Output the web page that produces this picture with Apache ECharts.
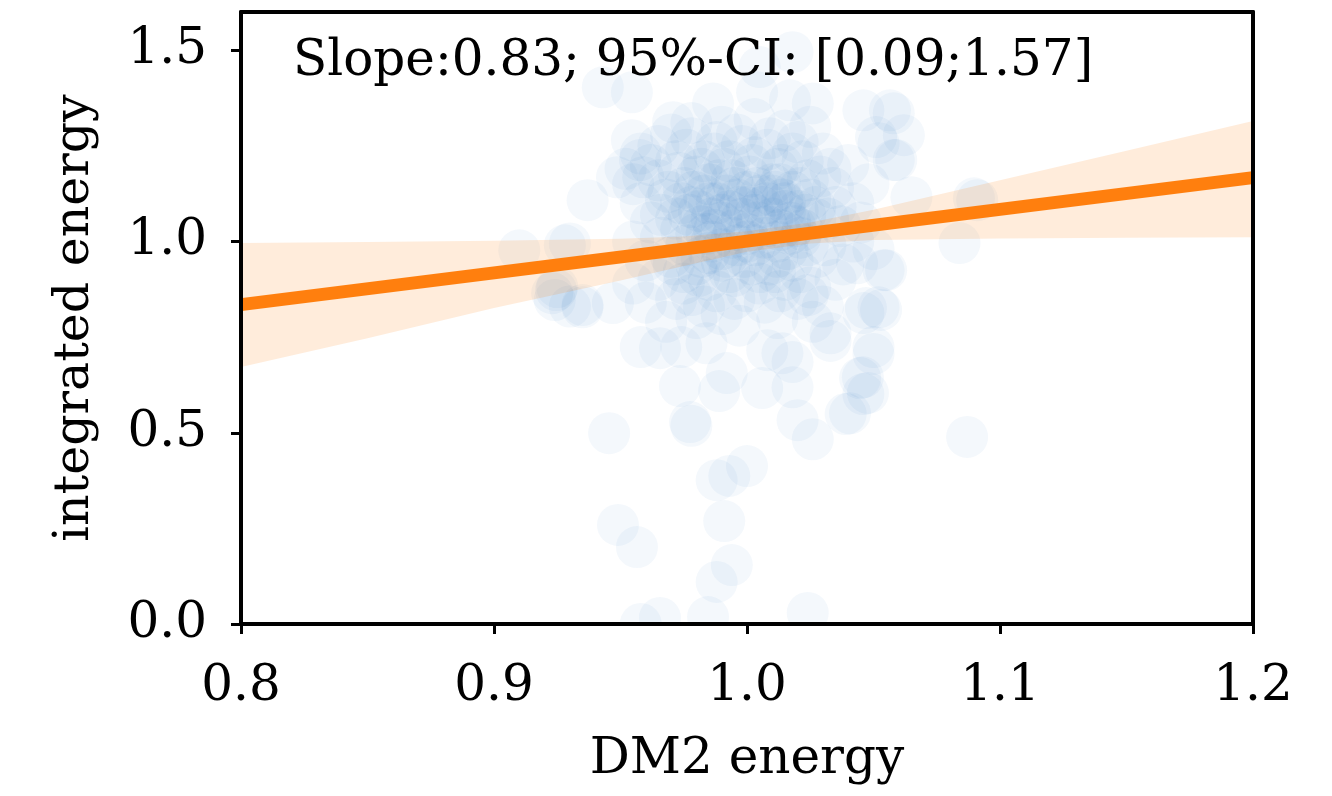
<!DOCTYPE html>
<html>
<head>
<meta charset="utf-8">
<script src="https://cdn.jsdelivr.net/npm/echarts@6/dist/echarts.min.js"></script>
<style>html,body{margin:0;padding:0;background:#fff}#c{width:1332px;height:796px}</style>
</head>
<body>
<div id="c"></div>
<script>
const xTicks = [0.8, 0.9, 1.0, 1.1, 1.2];
const yTicks = [0, 0.5, 1.0, 1.5];
const annotation = 'Slope:0.83; 95%-CI: [0.09;1.57]';
const xName = 'DM2 energy';
const yName = 'integrated energy';

const corePoints = [
  [0.978,1.31],[0.99,1.30],[1.003,1.32],[1.015,1.29],[0.97,1.28],[1.025,1.30],
  [0.965,1.25],[0.976,1.24],[0.988,1.26],[0.998,1.25],[1.008,1.24],[1.02,1.26],[1.03,1.23],[0.958,1.23],
  [0.962,1.20],[0.972,1.21],[0.982,1.19],[0.993,1.21],[1.002,1.20],[1.012,1.19],[1.022,1.21],[1.033,1.19],[0.952,1.19],[1.04,1.20],
  [0.955,1.15],[0.965,1.16],[0.975,1.14],[0.985,1.15],[0.994,1.16],[1.004,1.14],[1.013,1.15],[1.024,1.16],[1.034,1.14],[0.98,1.17],[1.0,1.13],[1.018,1.13],
  [0.958,1.10],[0.968,1.11],[0.978,1.09],[0.988,1.10],[0.996,1.11],[1.006,1.09],[1.015,1.10],[1.025,1.11],[1.035,1.09],[0.983,1.12],[1.01,1.12],[0.993,1.08],[1.02,1.08],
  [0.962,1.05],[0.972,1.06],[0.982,1.04],[0.99,1.05],[0.998,1.06],[1.008,1.04],[1.017,1.05],[1.027,1.06],[1.037,1.04],[0.977,1.07],[1.003,1.07],[1.013,1.03],[0.987,1.03],[1.022,1.03],
  [0.955,1.00],[0.966,1.01],[0.976,0.99],[0.986,1.00],[0.994,1.01],[1.003,0.99],[1.012,1.00],[1.021,1.01],[1.031,0.99],[1.042,1.00],[0.98,1.02],[1.0,1.02],[1.016,0.98],[0.99,0.98],
  [0.96,0.95],[0.97,0.96],[0.98,0.94],[0.99,0.95],[0.999,0.96],[1.009,0.94],[1.018,0.95],[1.028,0.96],[1.038,0.94],[0.985,0.97],[1.005,0.92],[0.975,0.92],
  [0.965,0.90],[0.975,0.89],[0.985,0.90],[0.995,0.91],[1.005,0.89],[1.015,0.90],[1.025,0.88],[1.035,0.90],[0.955,0.89],
  [0.96,0.84],[0.972,0.85],[0.983,0.83],[0.995,0.85],[1.007,0.84],[1.02,0.85],[1.03,0.83],[0.99,0.81],
  [0.968,0.79],[0.98,0.80],[0.997,0.78],[1.012,0.80],[1.026,0.79],
  [0.99,1.07],[1.0,1.09],[1.01,1.06],[0.995,1.03],[1.005,1.12],[0.985,1.10],[1.015,1.08],[1.0,1.00],[0.995,1.14],[1.01,1.15],
  [0.981,1.08],[0.992,1.12],[1.004,1.05],[1.014,1.11],[1.023,1.07],[0.986,1.06],[0.997,1.09],[1.008,1.10],[1.019,1.04],[0.979,1.13],
  [0.989,1.16],[1.001,1.17],[1.011,1.13],[1.021,1.14],[0.974,1.10],[0.984,1.02],[0.996,0.99],[1.007,1.01],[1.017,1.02],[1.027,1.09],
  [0.991,1.19],[1.003,1.22],[0.983,1.21],[1.014,1.20],[0.973,1.18],[1.029,1.17],[0.969,1.13],[0.992,0.96],[1.002,0.94],[0.982,0.96],
  [1.012,0.96],[0.974,1.03],[1.024,0.99],[0.966,1.07],[1.032,1.06],[0.987,1.23],[1.009,1.27],[0.978,1.27],[0.996,1.28],[1.018,1.23],
  [0.993,0.92],[1.011,0.92],[0.981,0.91],[1.021,0.92],[0.971,0.94],[0.988,0.87],[1.0,0.87],[1.013,0.87],[0.978,0.86],[1.024,0.86]
];
const outerPoints = [
  [0.9455,0.499],[1.087,0.489],[0.9775,0.528],[0.978,0.518],[1.026,0.483],[1.020,0.533],[1.039,0.549],[1.046,0.601],[1.0447,0.643],[1.050,0.706],
  [1.033,0.740],[1.018,0.619],[1.006,0.617],[0.989,0.609],[0.992,0.656],[0.9735,0.622],[1.000,0.413],[0.993,0.387],[0.988,0.376],[0.949,0.259],
  [0.9565,0.201],[0.991,0.269],[0.994,0.154],[0.988,0.110],[1.024,0.029],[0.9846,0.018],[0.9656,0.016],[0.958,0.0],
  [1.053,0.821],[1.047,0.826],[0.958,0.724],[0.9656,0.721],[0.974,0.724],[0.984,0.734],[1.008,0.716],[1.018,0.685],[1.014,0.708],[0.935,0.834],[0.924,0.847],
  [1.0458,0.645],[1.0478,0.604],[1.0407,0.551],
  [1.084,0.996],[1.0897,1.113],[1.065,1.116],[1.062,1.278],[1.058,1.335],[1.052,1.257],[1.058,1.213],[1.055,0.925],
  [0.943,1.403],[0.9545,1.390],[1.018,1.495],[1.0565,1.343],[1.091,1.108],[0.937,1.108],[0.910,0.977],[0.925,0.881],[0.928,0.99],[0.9245,0.873],[0.930,0.83],
  [0.9708,1.312],[0.9545,1.265],[0.9577,1.213],[0.9486,1.168],[0.959,1.168],[0.9866,1.361],[1.046,1.343],[1.051,1.273],[1.059,1.213],[1.026,1.361],[1.017,1.369],[1.005,1.456],[1.004,1.39],
  [0.930,0.995],[0.935,0.828],[0.947,0.839],[0.923,0.865],
  [1.0435,0.943],[1.054,0.925],[1.052,0.828],[1.046,0.813],[1.05,0.724],[1.033,0.760],
  [1.045,1.05],[1.05,0.98],[1.042,1.10],[1.048,1.15]
];

const fitX = [0.8, 1.2];
const fitY = [0.835, 1.167];
const bandX = [0.80, 0.85, 0.90, 0.95, 0.975, 1.00, 1.025, 1.05, 1.10, 1.15, 1.20];
const bandLower = [0.672, 0.747, 0.826, 0.898, 0.936, 0.973, 0.995, 1.004, 1.008, 1.010, 1.011];
const bandUpper = [0.996, 0.999, 1.002, 1.007, 1.013, 1.027, 1.050, 1.083, 1.160, 1.237, 1.315];

const FONT = 'DejaVu Serif';
const chart = echarts.init(document.getElementById('c'), null, {renderer: 'canvas'});
const allPoints = corePoints.concat(outerPoints);

const frameAxis = {
  axisLine: {show: true, onZero: false, lineStyle: {color: '#000', width: 4}},
  axisTick: {show: false}, axisLabel: {show: false}, splitLine: {show: false}
};

chart.setOption({
  animation: false,
  backgroundColor: '#fff',
  grid: {left: 241, right: 79, top: 12, bottom: 172, show: false},
  title: {
    text: annotation, left: 293, top: 37, padding: 0,
    textStyle: {fontFamily: FONT, fontSize: 50, fontWeight: 'normal', color: '#000', lineHeight: 50}
  },
  xAxis: [{
    type: 'value', min: 0.8, max: 1.2, interval: 0.1, z: 10,
    name: xName, nameLocation: 'middle', nameGap: 111,
    nameTextStyle: {fontFamily: FONT, fontSize: 50, color: '#000', lineHeight: 50},
    axisLine: {show: true, onZero: false, lineStyle: {color: '#000', width: 4}},
    axisTick: {show: true, inside: false, length: 10, lineStyle: {color: '#000', width: 3}, customValues: xTicks},
    axisLabel: {fontFamily: FONT, fontSize: 50, color: '#000', margin: 38, lineHeight: 50, customValues: xTicks,
      formatter: v => v.toFixed(1)},
    splitLine: {show: false}
  }, Object.assign({type: 'value', position: 'top', min: 0.8, max: 1.2, z: 10}, frameAxis)],
  yAxis: [{
    type: 'value', min: 0, max: 1.6, interval: 0.5, z: 10,
    name: yName, nameLocation: 'middle', nameGap: 141, nameRotate: 90,
    nameTextStyle: {fontFamily: FONT, fontSize: 49, color: '#000', lineHeight: 49},
    axisLine: {show: true, onZero: false, lineStyle: {color: '#000', width: 4}},
    axisTick: {show: true, inside: false, length: 10, lineStyle: {color: '#000', width: 3}, customValues: yTicks},
    axisLabel: {fontFamily: FONT, fontSize: 50, color: '#000', margin: 34, customValues: yTicks,
      formatter: v => v.toFixed(1)},
    splitLine: {show: false}
  }, Object.assign({type: 'value', position: 'right', min: 0, max: 1.6, z: 10}, frameAxis)],
  series: [
    {
      type: 'scatter', data: allPoints, symbol: 'circle', symbolSize: 42, z: 1,
      itemStyle: {color: 'rgba(31,108,186,0.058)', borderWidth: 0}
    },
    {
      type: 'custom', z: 2, silent: true,
      data: bandX.map((x, i) => [x, bandLower[i], bandUpper[i]]),
      encode: {x: 0, y: [1, 2]},
      renderItem: (params, api) => {
        if (params.dataIndex !== 0) return null;
        const pts = [];
        for (let i = 0; i < bandX.length; i++) pts.push(api.coord([bandX[i], bandUpper[i]]));
        for (let i = bandX.length - 1; i >= 0; i--) pts.push(api.coord([bandX[i], bandLower[i]]));
        return {type: 'polygon', shape: {points: pts}, style: {fill: 'rgba(255,127,14,0.15)'}};
      }
    },
    {
      type: 'line', data: fitX.map((x, i) => [x, fitY[i]]), symbol: 'none', z: 3,
      lineStyle: {color: '#ff7f0e', width: 13, cap: 'butt'}
    }
  ]
});

// white mask below the plotting area so circles are clipped by the x axis like in matplotlib
const p0 = chart.convertToPixel({xAxisIndex: 0, yAxisIndex: 0}, [0.8, 0]);
const p1 = chart.convertToPixel({xAxisIndex: 0, yAxisIndex: 0}, [1.2, 0]);
chart.setOption({
  graphic: [{
    type: 'rect', z: 5, silent: true,
    shape: {x: p0[0] - 40, y: p0[1] + 2, width: p1[0] - p0[0] + 80, height: 60},
    style: {fill: '#fff'}
  }]
});
</script>
</body>
</html>
